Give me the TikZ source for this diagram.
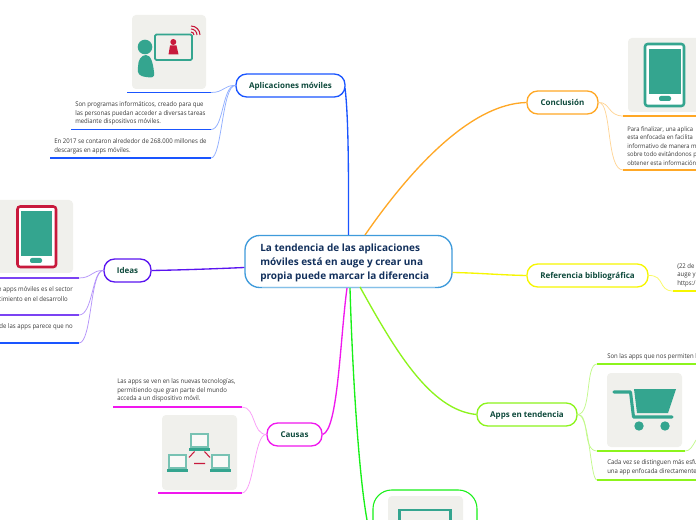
\documentclass[tikz,border=0pt]{standalone}
\usepackage{fontspec}
\setmainfont{Open Sans}
\newfontfamily\notefont[FakeStretch=0.93]{Open Sans}
\definecolor{cblue}{HTML}{1A55FF}
\definecolor{lblue}{HTML}{8FAEFF}
\definecolor{cpurple}{HTML}{5A14F0}
\definecolor{lpurple}{HTML}{B594FA}
\definecolor{cmag}{HTML}{F018EE}
\definecolor{lmag}{HTML}{FA9CF8}
\definecolor{cgreen}{HTML}{18F018}
\definecolor{corange}{HTML}{FFA826}
\definecolor{lorange}{HTML}{FFD596}
\definecolor{cyel}{HTML}{F6F600}
\definecolor{cyelb}{HTML}{FAFA60}
\definecolor{clime}{HTML}{8CF41C}
\definecolor{llime}{HTML}{C2F98A}
\definecolor{croot}{HTML}{3F9BDB}
\definecolor{lroot}{HTML}{85C0E8}
\definecolor{teal}{HTML}{34A58F}
\definecolor{lteal}{HTML}{A5D5CB}
\definecolor{cred}{HTML}{C8193C}
\definecolor{cardbg}{HTML}{F0F0EC}
\definecolor{topictxt}{HTML}{0E4A3C}
\definecolor{roottxt}{HTML}{12305C}
\definecolor{notetxt}{HTML}{3A3A3A}
\tikzset{
  topic/.style={rounded corners=8pt,line width=1pt,fill=white,inner sep=0pt,align=center,
    text height=4.5pt,text depth=0.6pt,
    font=\fontsize{6.0pt}{8pt}\selectfont\bfseries,text=topictxt},
  note/.style={anchor=west,inner sep=0pt,align=left,text=notetxt,
    font=\notefont\fontsize{4.85pt}{6.4pt}\selectfont},
  uline/.style={line width=1.4pt},
  main/.style={line width=1pt},
  sub/.style={line width=0.55pt},
}
\begin{document}
\begin{tikzpicture}[x=0.75pt,y=-0.75pt]
\useasboundingbox (0,0) rectangle (696,520);
\clip (0,0) rectangle (696,520);
\fill[white] (0,0) rectangle (696,520);

% named underline ends
\coordinate (a1s) at (127,92.5);  \coordinate (a1e) at (211,92.5);
\coordinate (a2s) at (71,129.5);  \coordinate (a2e) at (211,129.5);
\coordinate (a3s) at (50,158);    \coordinate (a3e) at (211,158);
\coordinate (i1s) at (0,278);     \coordinate (i1e) at (79,278);
\coordinate (i2s) at (0,315);     \coordinate (i2e) at (79,315);
\coordinate (i3s) at (0,343);     \coordinate (i3e) at (79,343);
\coordinate (c1s) at (113,407);   \coordinate (c1e) at (242,407);
\coordinate (c2s) at (158,493);   \coordinate (c2e) at (242,493);
\coordinate (k1s) at (623,116);   \coordinate (k1e) at (696,116);
\coordinate (k2s) at (623,170);   \coordinate (k2e) at (696,170);
\coordinate (r1s) at (673,291);   \coordinate (r1e) at (696,291);
\coordinate (t1s) at (597,364);   \coordinate (t1e) at (696,364);
\coordinate (t2s) at (597,451);   \coordinate (t2e) at (685,451);
\coordinate (t3s) at (597,480);   \coordinate (t3e) at (696,480);
\coordinate (t2r) at (696,440);
\coordinate (bottomend) at (367,520);
\coordinate (rootbl) at (262,287.5);
\coordinate (rootbr) at (435,287.5);

% nodes
\node[rounded corners=11pt,line width=1pt,draw=croot,fill=white,minimum width=207*0.75pt,minimum height=52*0.75pt,inner sep=0pt] (root) at (348.5,261.5) {};
\draw[lroot,line width=1pt] (rootbl) -- (rootbr);
\node[anchor=west,inner sep=0pt,align=left,text=roottxt,font=\fontsize{7.5pt}{10.5pt}\selectfont\bfseries] (roottext) at (260,262.5) {La tendencia de las aplicaciones\\móviles está en auge y crear una\\propia puede marcar la diferencia};

\node[topic,draw=cblue,minimum width=109*0.75pt,minimum height=23*0.75pt] (aplic) at (290.5,85.5) {Aplicaciones móviles};
\node[topic,draw=cpurple,minimum width=47*0.75pt,minimum height=23*0.75pt] (ideas) at (127.5,270.5) {Ideas};
\node[topic,draw=cmag,minimum width=55*0.75pt,minimum height=23*0.75pt] (causas) at (294.5,434.5) {Causas};
\node[topic,draw=corange,minimum width=71*0.75pt,minimum height=23*0.75pt] (concl) at (562.5,102.5) {Conclusión};
\node[topic,draw=cyel,minimum width=121*0.75pt,minimum height=23*0.75pt] (refer) at (587.5,275.5) {Referencia bibliográfica};
\node[topic,draw=clime,minimum width=100*0.75pt,minimum height=23*0.75pt] (apps) at (527,414.5) {Apps en tendencia};
\node[draw=cgreen,line width=0.8pt,rounded corners=14pt,minimum width=104*0.75pt,minimum height=70*0.75pt,inner sep=0pt] (bottombox) at (425,525) {};

% main branches
\draw[main,cblue] (root.north) .. controls (348.5,190) and (349,120) .. (345,88);
\draw[main,cpurple] (root.west) ++(0,6) .. controls (210,269) and (180,270) .. (ideas.east);
\draw[main,cmag] (347,288) .. controls (340,340) and (338,430) .. (causas.east);
\draw[main,cgreen] (350,288) .. controls (352,360) and (358,470) .. (bottomend);
\draw[main,corange] (365,235) .. controls (410,170) and (470,104) .. (concl.west);
\draw[main,cyel] (root.east) ++(0,11) .. controls (480,273) and (500,275) .. (refer.west);
\draw[main,clime] (360,287) .. controls (395,350) and (430,410) .. (apps.west);

% sub connectors
\draw[sub,lblue] (aplic.west) .. controls (224,85) and (224,92.5) .. (a1e);
\draw[sub,lblue] (aplic.west) .. controls (222,85) and (224,129.5) .. (a2e);
\draw[sub,lblue] (aplic.west) .. controls (222,85) and (222,158) .. (a3e);
\draw[sub,lpurple] (ideas.west) .. controls (92,270) and (92,278) .. (i1e);
\draw[sub,lpurple] (ideas.west) .. controls (92,270) and (93,315) .. (i2e);
\draw[sub,lpurple] (ideas.west) .. controls (90,270) and (92,343) .. (i3e);
\draw[sub,lmag] (causas.west) .. controls (252,434) and (256,407) .. (c1e);
\draw[sub,lmag] (causas.west) .. controls (254,434) and (254,493) .. (c2e);
\draw[sub,lorange] (concl.east) .. controls (610,102) and (608,116) .. (k1s);
\draw[sub,lorange] (concl.east) .. controls (612,102) and (606,170) .. (k2s);
\draw[sub,cyelb] (refer.east) .. controls (665,275) and (658,291) .. (r1s);
\draw[sub,llime] (apps.east) .. controls (592,414) and (585,364) .. (t1s);
\draw[sub,llime] (apps.east) .. controls (590,414) and (582,451) .. (t2s);
\draw[sub,llime] (apps.east) .. controls (590,414) and (590,480) .. (t3s);
\draw[sub,llime] (t2e) .. controls (690,451) and (692,447) .. (t2r);

% underlines
\draw[uline,cblue] (a1s)--(a1e) (a2s)--(a2e) (a3s)--(a3e);
\draw[uline,cpurple!80!white] (i1s)--(i1e) (i2s)--(i2e);
\draw[uline,cblue] (i3s)--(i3e);
\draw[uline,cmag] (c1s)--(c1e) (c2s)--(c2e);
\draw[uline,corange] (k1s)--(k1e) (k2s)--(k2e);
\draw[uline,cyel] (r1s)--(r1e);
\draw[uline,clime] (t1s)--(t1e) (t2s)--(t2e) (t3s)--(t3e);

% notes
\node[note] (n1) at (75,113.5) {Son programas informáticos, creado para que\\las personas puedan acceder a diversas tareas\\mediante dispositivos móviles.};
\node[note] (n2) at (54,146.5) {En 2017 se contaron alrededor de 268.000 millones de\\descargas en apps móviles.};
\node[note,anchor=east] (n3a) at (73,290) {e apps móviles es el sector};
\node[note,anchor=east] (n3b) at (68,299) {cimiento en el desarrollo};
\node[note,anchor=east] (n4) at (73,327) {de las apps parece que no};
\node[note] (n5) at (117,390.5) {Las apps se ven en las nuevas tecnologías,\\permitiendo que gran parte del mundo\\acceda a un dispositivo móvil.};
\node[note,font=\notefont\fontsize{4.7pt}{6.4pt}\selectfont] (n6) at (627,146) {Para finalizar, una aplica\\esta enfocada en facilita\\informativo de manera m\\sobre todo evitándonos p\\obtener esta información};
\node[note] (n7) at (677,275) {(22 de\\auge y\\https:/};
\node[note] (n8) at (607,357) {Son las apps que nos permiten h};
\node[note] (n9) at (607,467.5) {Cada vez se distinguen más esfu\\una app enfocada directamente};

% card: person
\fill[cardbg,rounded corners=3pt] (132,15) rectangle (206,89);
\fill[teal] (145,47) circle (7.3);
\fill[teal] (146,55) .. controls (151,55) and (153,63) .. (154,72) .. controls (155,78) and (152,78) .. (146,77) .. controls (139,76) and (137,74) .. (138,67) .. controls (138,60) and (141,55) .. (146,55) -- cycle;
\draw[teal,line width=1.3pt,rounded corners=1pt] (155,34.5) rectangle (192,60);
\fill[cred] (173.3,42) circle (3);
\fill[cred] (170,45.5) -- (176.5,45.5) -- (178.5,54.5) -- (168.5,54.5) -- cycle;
\foreach \r in {3,6,9} \draw[cred,line width=0.8pt] (191,35) ++(-90:\r) arc (-90:0:\r);

% card: phone (Ideas)
\fill[cardbg,rounded corners=3pt] (-4,200) rectangle (73,273);
\draw[cred,line width=1.9pt,fill=white,rounded corners=2pt] (17.5,206.5) rectangle (56,267);
\fill[teal] (21,211) rectangle (52,256);
\fill[teal,rounded corners=1.5pt] (30,258) rectangle (42,263);

% card: network
\fill[cardbg,rounded corners=3pt] (162,415) rectangle (237,490);
\foreach \x/\y in {191/434,169/455,212/455}{
  \draw[lteal!60!teal,line width=0.8pt,fill=cardbg!40!white] (\x,\y) rectangle (\x+17,\y+13);
  \fill[teal] (\x-2,\y+13.5) rectangle (\x+19,\y+16.5);
}
\draw[cred,line width=0.8pt] (189,457.5)--(194.5,451.5) (204.5,451.5)--(210,457.5) (194,463.5)--(205,463.5);

% card: tablet (bottom)
\fill[cardbg,rounded corners=3pt] (388,496) rectangle (463,530);
\draw[teal,line width=1.9pt] (399.5,530) -- (399.5,510) -- (450.5,510) -- (450.5,530);

% card: phone (Conclusion)
\fill[cardbg,rounded corners=3pt] (628,38) rectangle (710,112);
\draw[teal,line width=1.9pt,fill=white,rounded corners=2pt] (645,44) rectangle (684,106);
\fill[teal] (649,49) rectangle (681,94);
\fill[teal,rounded corners=1.5pt] (659,96) rectangle (671,101);

% card: cart
\fill[cardbg,rounded corners=3pt] (607,373) rectangle (682,447);
\draw[teal,line width=2.3pt,line cap=round,line join=round] (614,392) -- (630.5,392) -- (633.5,417) -- (672,417);
\fill[teal] (634,389) -- (676,389) -- (668,413) -- (637,413) -- cycle;
\fill[teal] (639,426) circle (4.7);
\fill[teal] (665,426) circle (4.7);
\end{tikzpicture}
\end{document}
